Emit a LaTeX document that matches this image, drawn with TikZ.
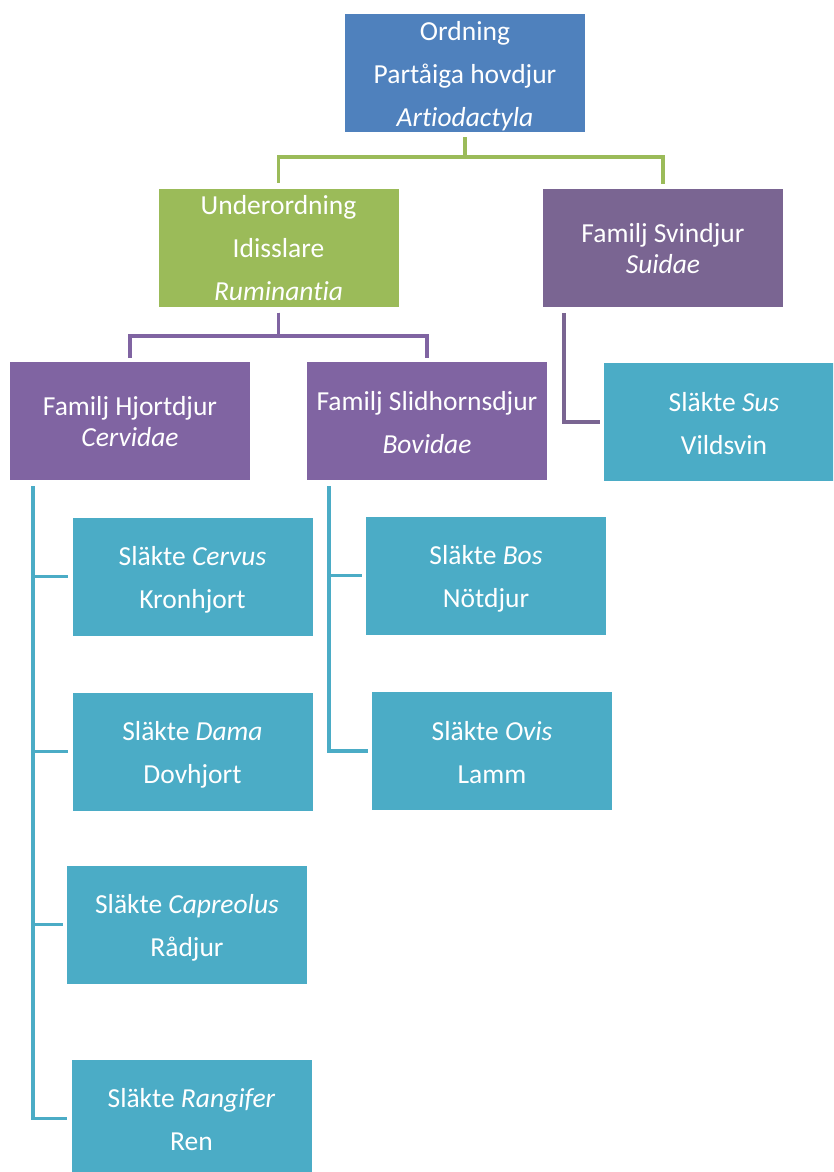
\documentclass[tikz,border=0pt]{standalone}
\usepackage{fontspec}
\setmainfont{Carlito}[Ligatures=NoCommon]
\definecolor{cblue}{HTML}{4F81BD}
\definecolor{cgreen}{HTML}{9BBB59}
\definecolor{cpurple}{HTML}{8064A2}
\definecolor{csvin}{HTML}{7A6592}
\definecolor{cteal}{HTML}{4BACC6}
\begin{document}
\begin{tikzpicture}[x=1pt,y=-1pt,
  box/.style={minimum width=240pt, minimum height=118pt, inner sep=0pt,
    text=white, align=center, font=\fontsize{27.5}{43}\selectfont, text depth=0pt},
  three/.style={text height=106pt},
  two/.style={text height=64pt},
  tight/.style={font=\fontsize{27.5}{31}\selectfont, text height=50pt},
  conn/.style={line width=3.4pt},
]
\fill[white] (0,0) rectangle (833,1172);
\useasboundingbox (0,0) rectangle (833,1172);
\clip (0,0) rectangle (833,1172);

% boxes
\node[box,three,fill=cblue]   (ord)    at (465,73)      {Ordning\\Partåiga hovdjur\\\textit{Artiodactyla}};
\node[box,three,fill=cgreen]  (und)    at (278.5,247.5) {Underordning\\Idisslare\\\textit{Ruminantia}};
\node[box,tight,fill=csvin]   (svin)   at (663,248)     {Familj Svindjur\\\textit{Suidae}};
\node[box,tight,fill=cpurple] (hjort)  at (130,421)     {Familj Hjortdjur\\\textit{Cervidae}};
\node[box,two,fill=cpurple]   (slid)   at (427,421)     {Familj Slidhornsdjur\\\textit{Bovidae}};
\node[box,two,fill=cteal]     (sus)    at (724,422)     {Släkte \textit{Sus}\\Vildsvin};
\node[box,two,fill=cteal]     (cervus) at (192.5,576.5) {Släkte \textit{Cervus}\\Kronhjort};
\node[box,two,fill=cteal]     (bos)    at (486,575.5)   {Släkte \textit{Bos}\\Nötdjur};
\node[box,two,fill=cteal]     (dama)   at (192.5,751.5) {Släkte \textit{Dama}\\Dovhjort};
\node[box,two,fill=cteal]     (ovis)   at (492,751)     {Släkte \textit{Ovis}\\Lamm};
\node[box,two,fill=cteal]     (cap)    at (187,924.5)   {Släkte \textit{Capreolus}\\Rådjur};
\node[box,two,fill=cteal]     (ran)    at (191.5,1118.5){Släkte \textit{Rangifer}\\Ren};

% Ordning -> Underordning, Svindjur
\draw[conn,cgreen,shorten <=5pt,shorten >=5pt] (ord.south) -- (ord.south |- 0,157) -| (und.north);
\draw[conn,cgreen,shorten <=5pt,shorten >=5pt] (ord.south) -- (ord.south |- 0,157) -| (svin.north);

% Underordning -> Hjortdjur, Slidhornsdjur
\draw[conn,cpurple,shorten <=6pt,shorten >=4pt] (und.south) -- (und.south |- 0,336) -| (hjort.north);
\draw[conn,cpurple,shorten <=6pt,shorten >=4pt] (und.south) -- (und.south |- 0,336) -| (slid.north);

% Svindjur -> Sus
\coordinate (strunk) at ([xshift=21pt]svin.south west);
\draw[conn,csvin,shorten <=6pt,shorten >=4pt] (strunk) |- (sus.west);

% Hjortdjur -> genera
\coordinate (ctrunk) at ([xshift=23pt]hjort.south west);
\draw[conn,cteal,shorten <=6pt,shorten >=4pt] (ctrunk) |- (ran.west);
\draw[conn,cteal,shorten >=4pt] (ctrunk |- cervus.west) -- (cervus.west);
\draw[conn,cteal,shorten >=4pt] (ctrunk |- dama.west) -- (dama.west);
\draw[conn,cteal,shorten >=4pt] (ctrunk |- cap.west) -- (cap.west);

% Slidhornsdjur -> genera
\coordinate (btrunk) at ([xshift=22pt]slid.south west);
\draw[conn,cteal,shorten <=6pt,shorten >=4pt] (btrunk) |- (ovis.west);
\draw[conn,cteal,shorten >=4pt] (btrunk |- bos.west) -- (bos.west);
\end{tikzpicture}
\end{document}
